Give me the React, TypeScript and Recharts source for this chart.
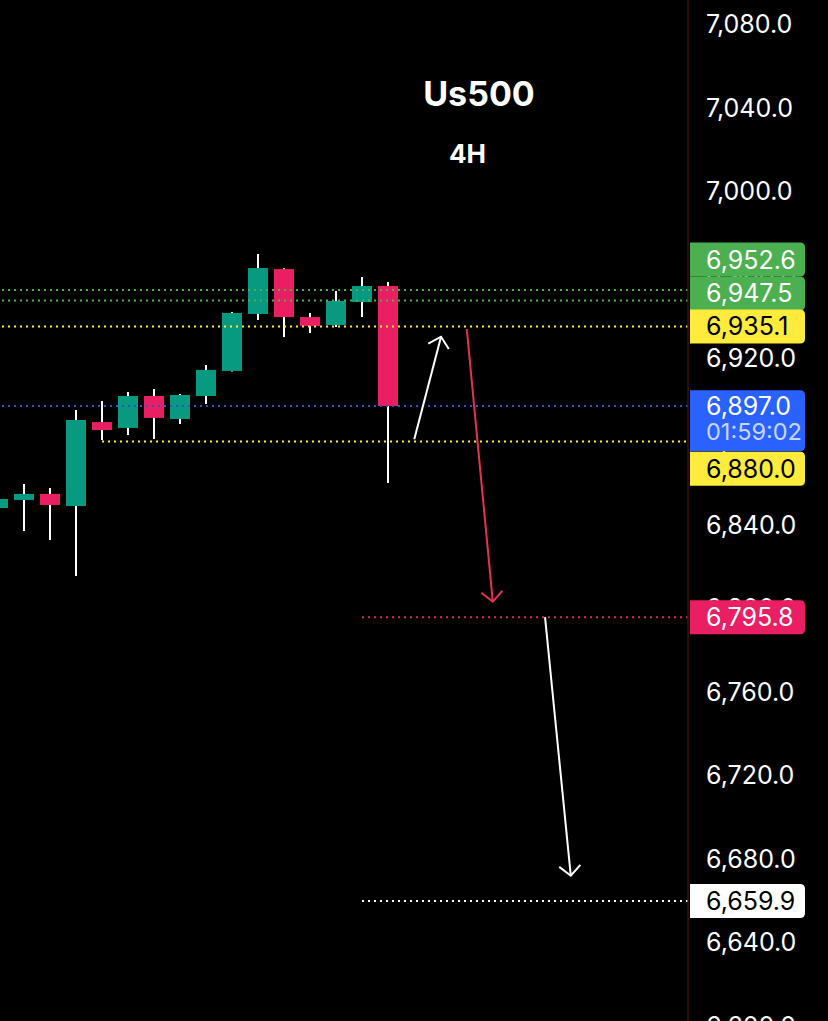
import React from 'react';
import { ComposedChart, Bar, XAxis, YAxis, ReferenceLine } from 'recharts';

// ---------- data ----------
const candleIndex = [0, 1, 2, 3, 4, 5, 6, 7, 8, 9, 10, 11, 12, 13, 14, 15];
const opens = [6848.1, 6852.0, 6854.9, 6849.1, 6889.3, 6886.5, 6901.8, 6890.8, 6901.8, 6913.8, 6941.1, 6962.6, 6939.6, 6935.8, 6946.8, 6954.5];
const highs = [6855.0, 6859.6, 6857.7, 6895.1, 6899.4, 6903.7, 6905.1, 6902.8, 6916.6, 6942.0, 6969.8, 6963.0, 6941.6, 6952.1, 6958.8, 6956.4];
const lows = [6844.0, 6837.1, 6832.8, 6815.6, 6880.7, 6883.1, 6881.2, 6888.4, 6898.0, 6913.5, 6938.2, 6930.1, 6932.0, 6934.9, 6939.6, 6860.1];
const closes = [6852.5, 6854.9, 6849.6, 6890.3, 6885.5, 6901.8, 6891.3, 6902.3, 6914.3, 6941.6, 6963.1, 6939.6, 6935.3, 6947.3, 6954.5, 6897.0];

const yTicks = [7080, 7040, 7000, 6960, 6920, 6880, 6840, 6800, 6760, 6720, 6680, 6640, 6600];

const levelValues = [6952.6, 6947.5, 6935.1, 6897.0, 6880.0, 6795.8, 6659.9];
const levelStartIndex = [null, null, null, null, 4, 14, 14];
const countdownText = '01:59:02';

// arrows: start (index, price) -> tip (index, price)
const arrowFromIndex = [16.01, 18.03, 21.04];
const arrowFromPrice = [6881.1, 6933.9, 6795.9];
const arrowToIndex = [17.04, 19.03, 22.03];
const arrowToPrice = [6930.2, 6803.3, 6672.0];

const titleText = 'Us500';
const subtitleText = '4H';

// ---------- styles / layout ----------
const FONT = 'Inter, "Noto Sans", sans-serif';
const AXIS_FS = 25;
const WIDTH = 828;
const VIEW_H = 1021;
const CHART_H = 1060;
const AXIS_W = 140;
const X_DOMAIN: [number, number] = [2 / 26, 690 / 26];
const Y_DOMAIN: [number, number] = [6583.71, 7091.5];
const UP = '#089981';
const DOWN = '#e91e63';

const levelLineColors = ['#4caf50', '#4caf50', '#ffeb3b', '#2f4fd8', '#ffeb3b', '#e91e63', '#ffffff'];
const badgeFills = ['#4caf50', '#4caf50', '#ffeb3b', '#2962ff', '#ffeb3b', '#e91e63', '#ffffff'];
const badgeTextColors = ['#ffffff', '#ffffff', '#000000', '#ffffff', '#000000', '#ffffff', '#000000'];
const badgeShift = [-30.4, -7.2, 0, 0, 27.3, 0, 0];
const arrowColors = ['#ffffff', '#e5334b', '#ffffff'];

const fmt = (v: number) =>
  v.toLocaleString('en-US', { minimumFractionDigits: 1, maximumFractionDigits: 1 });

const data = candleIndex.map((i, k) => ({
  i,
  open: opens[k],
  high: highs[k],
  low: lows[k],
  close: closes[k],
  range: [lows[k], highs[k]],
}));

const Candle = (props: any) => {
  const { x, y, width, height, payload } = props;
  if (x == null || y == null) return null;
  const { open, close, high, low } = payload;
  const top = Math.min(y, y + height);
  const h = Math.abs(height);
  const ppu = h / (high - low);
  const cx = x + width / 2;
  const bodyTop = top + (high - Math.max(open, close)) * ppu;
  const bodyBot = top + (high - Math.min(open, close)) * ppu;
  const color = close >= open ? UP : DOWN;
  return (
    <g>
      <line x1={cx} x2={cx} y1={top} y2={top + h} stroke="#ffffff" strokeWidth={2} />
      <rect x={x} y={bodyTop} width={width} height={Math.max(bodyBot - bodyTop, 2)} fill={color} />
    </g>
  );
};

const rightRounded = (x: number, y: number, w: number, h: number, r: number) =>
  `M${x},${y} H${x + w - r} Q${x + w},${y} ${x + w},${y + r} V${y + h - r} Q${x + w},${y + h} ${x + w - r},${y + h} H${x} Z`;

// Badge drawn as a tick of a mirrored overlay axis (so it sits above the price ticks)
const BadgeTick = (props: any) => {
  const { x, y, payload } = props;
  const k = levelValues.indexOf(payload.value);
  if (k < 0 || y == null) return null;
  const bx = x + 2;
  const bw = 115;
  const isPrice = k === 3;
  const bh = isPrice ? 61 : 34;
  const by = isPrice ? y - 15.7 : y + badgeShift[k] - bh / 2;
  return (
    <g>
      <path d={rightRounded(bx, by, bw, bh, 5)} fill={badgeFills[k]} />
      <text x={bx + 16} y={(isPrice ? by + 15.7 : by + bh / 2) + 9} fill={badgeTextColors[k]} fontSize={AXIS_FS} fontFamily={FONT}>
        {fmt(levelValues[k])}
      </text>
      {isPrice && (
        <text x={bx + 16} y={by + 15.7 + 25 + 8.5} fill="#c9d6ff" fontSize={23.5} fontFamily={FONT}>
          {countdownText}
        </text>
      )}
    </g>
  );
};

const ArrowShape = (props: any) => {
  const { x1, y1, x2, y2, stroke } = props;
  if ([x1, y1, x2, y2].some((v) => v == null || isNaN(v))) return null;
  const dx = x1 - x2;
  const dy = y1 - y2;
  const len = Math.hypot(dx, dy) || 1;
  const ux = dx / len;
  const uy = dy / len;
  const a = (47 * Math.PI) / 180;
  const L = 14.5;
  const rot = (s: number) => [
    x2 + L * (ux * Math.cos(s * a) - uy * Math.sin(s * a)),
    y2 + L * (ux * Math.sin(s * a) + uy * Math.cos(s * a)),
  ];
  const [ax, ay] = rot(1);
  const [bx, by] = rot(-1);
  return (
    <g>
      <line x1={x1} y1={y1} x2={x2} y2={y2} stroke={stroke} strokeWidth={2} />
      <polyline points={`${ax},${ay} ${x2},${y2} ${bx},${by}`} fill="none" stroke={stroke} strokeWidth={2} />
    </g>
  );
};

const AxisTick = (props: any) => {
  const { x, y, payload } = props;
  return (
    <text x={x} y={y + 9} fill="#ffffff" fontSize={AXIS_FS} fontFamily={FONT} textAnchor="start">
      {fmt(payload.value)}
    </text>
  );
};

export default function App() {
  return (
    <div
      style={{
        position: 'absolute',
        left: 0,
        top: 0,
        width: WIDTH,
        height: VIEW_H,
        background: '#000000',
        overflow: 'hidden',
      }}
    >
      <ComposedChart
        width={WIDTH}
        height={CHART_H}
        data={data}
        margin={{ top: 0, right: 0, bottom: 0, left: 0 }}
        style={{ background: '#000000' }}
      >
        <XAxis dataKey="i" type="number" domain={X_DOMAIN} allowDataOverflow hide />
        <YAxis
          orientation="right"
          type="number"
          domain={Y_DOMAIN}
          allowDataOverflow
          ticks={yTicks}
          interval={0}
          width={AXIS_W}
          tickSize={0}
          tickMargin={18}
          tickLine={false}
          axisLine={{ stroke: '#3a1414', strokeWidth: 1.5 }}
          tick={<AxisTick />}
        />
        <YAxis
          yAxisId="badge"
          orientation="right"
          type="number"
          mirror
          domain={Y_DOMAIN}
          allowDataOverflow
          ticks={levelValues}
          interval={0}
          tickSize={0}
          tickMargin={0}
          tickLine={false}
          axisLine={false}
          tick={<BadgeTick />}
        />
        {levelValues.map((v, k) =>
          levelStartIndex[k] == null ? (
            <ReferenceLine
              key={'lv' + k}
              y={v}
              stroke={levelLineColors[k]}
              strokeWidth={2}
              strokeDasharray="2 4"
            />
          ) : (
            <ReferenceLine
              key={'lv' + k}
              segment={[
                { x: levelStartIndex[k] as number, y: v },
                { x: X_DOMAIN[1], y: v },
              ]}
              stroke={levelLineColors[k]}
              strokeWidth={2}
              strokeDasharray="2 4"
            />
          )
        )}
        <Bar dataKey="range" barSize={20} shape={<Candle />} isAnimationActive={false} />
        {arrowFromIndex.map((fx, k) => (
          <ReferenceLine
            key={'ar' + k}
            segment={[
              { x: fx, y: arrowFromPrice[k] },
              { x: arrowToIndex[k], y: arrowToPrice[k] },
            ]}
            stroke={arrowColors[k]}
            shape={(p: any) => <ArrowShape {...p} stroke={arrowColors[k]} />}
          />
        ))}
      </ComposedChart>
      <svg
        width={WIDTH}
        height={VIEW_H}
        style={{ position: 'absolute', left: 0, top: 0, pointerEvents: 'none' }}
      >
        <text x={479} y={106} fill="#ffffff" fontSize={34} fontWeight={700} fontFamily={FONT} textAnchor="middle">
          {titleText}
        </text>
        <text x={467.5} y={163} fill="#ffffff" fontSize={26} fontWeight={700} fontFamily={FONT} textAnchor="middle">
          {subtitleText}
        </text>
      </svg>
    </div>
  );
}
